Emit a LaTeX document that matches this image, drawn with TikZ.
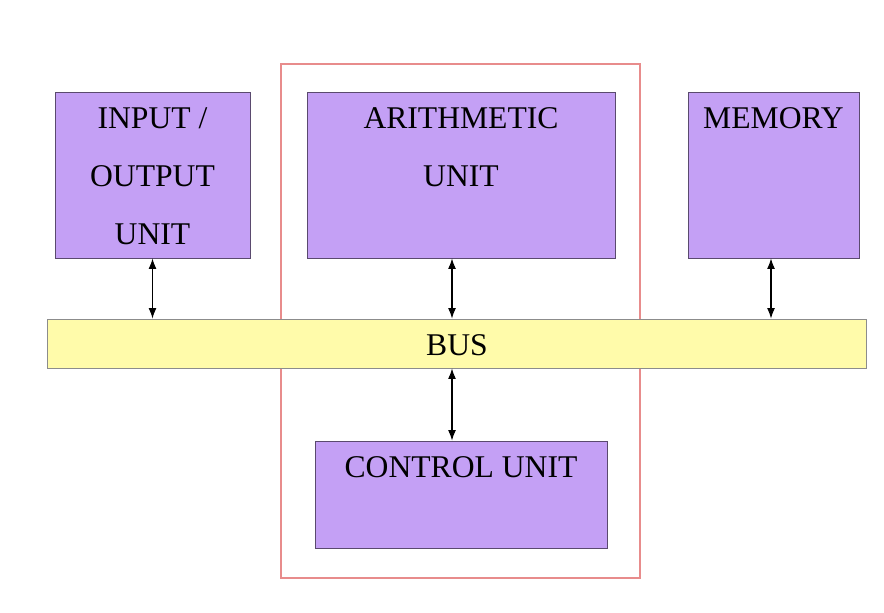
\documentclass[tikz,border=0pt]{standalone}
\usepackage{fontspec}
\setmainfont{Liberation Serif}
\usepackage{tikz}
\usetikzlibrary{arrows.meta, positioning, calc}
\definecolor{unitfill}{RGB}{196,160,245}
\definecolor{unitdraw}{RGB}{90,74,110}
\definecolor{busfill}{RGB}{255,251,170}
\definecolor{busdraw}{RGB}{140,140,140}
\definecolor{cpudraw}{RGB}{232,140,140}
\tikzset{
  unit/.style={
    draw=unitdraw,
    fill=unitfill,
    rectangle,
    line width=0.5pt,
    inner sep=0pt,
  },
  busbox/.style={
    draw=busdraw,
    fill=busfill,
    rectangle,
    line width=0.5pt,
    inner sep=0pt,
  },
  label/.style={
    align=center,
    inner sep=0pt,
    anchor=base,
    font=\fontsize{18}{33}\selectfont,
  },
  arrow/.style={
    {Latex[length=6pt,width=4.5pt]}-{Latex[length=6pt,width=4.5pt]},
    line width=0.6pt
  }
}
\begin{document}
\begin{tikzpicture}[x=0.02cm,y=-0.02cm]
\useasboundingbox (0,0) rectangle (884,612);

% --- Cadre du processeur ---
\node[draw=cpudraw, line width=1pt, inner sep=0pt, minimum width=7.18cm, minimum height=10.28cm] (cpu) at (460.5,321) {};

% --- Blocs ---
\node[unit, minimum width=3.9cm, minimum height=3.32cm] (io) at (152.5,175) {};
\node[unit, minimum width=6.16cm, minimum height=3.32cm] (alu) at (461,175) {};
\node[unit, minimum width=3.42cm, minimum height=3.32cm] (mem) at (773.5,175) {};
\node[busbox, minimum width=16.4cm, minimum height=0.98cm] (bus) at (457,343.5) {};
\node[unit, minimum width=5.84cm, minimum height=2.14cm] (cu) at (461,494.5) {};

% --- Textes (ligne de base de la derniere ligne) ---
\node[label] (iotext) at ($(io.north)+(0,153)$) {INPUT /\\OUTPUT\\UNIT};
\node[label] (alutext) at ($(alu.north)+(0,95)$) {ARITHMETIC\\UNIT};
\node[label] (memtext) at ($(mem.north)+(0,37)$) {MEMORY};
\node[label] (bustext) at ($(bus.center)+(0,12)$) {BUS};
\node[label] (cutext) at ($(cu.north)+(0,37)$) {CONTROL UNIT};

% --- Liaisons avec le bus ---
\coordinate (link) at (452,343);
\draw[arrow] (io.south) -- (io.south |- bus.north);
\draw[arrow] (alu.south -| link) -- (bus.north -| link);
\draw[arrow] ($(mem.south)+(-2.5,0)$) -- ($(mem.south |- bus.north)+(-2.5,0)$);
\draw[arrow] (bus.south -| link) -- (cu.north -| link);

\end{tikzpicture}
\end{document}
